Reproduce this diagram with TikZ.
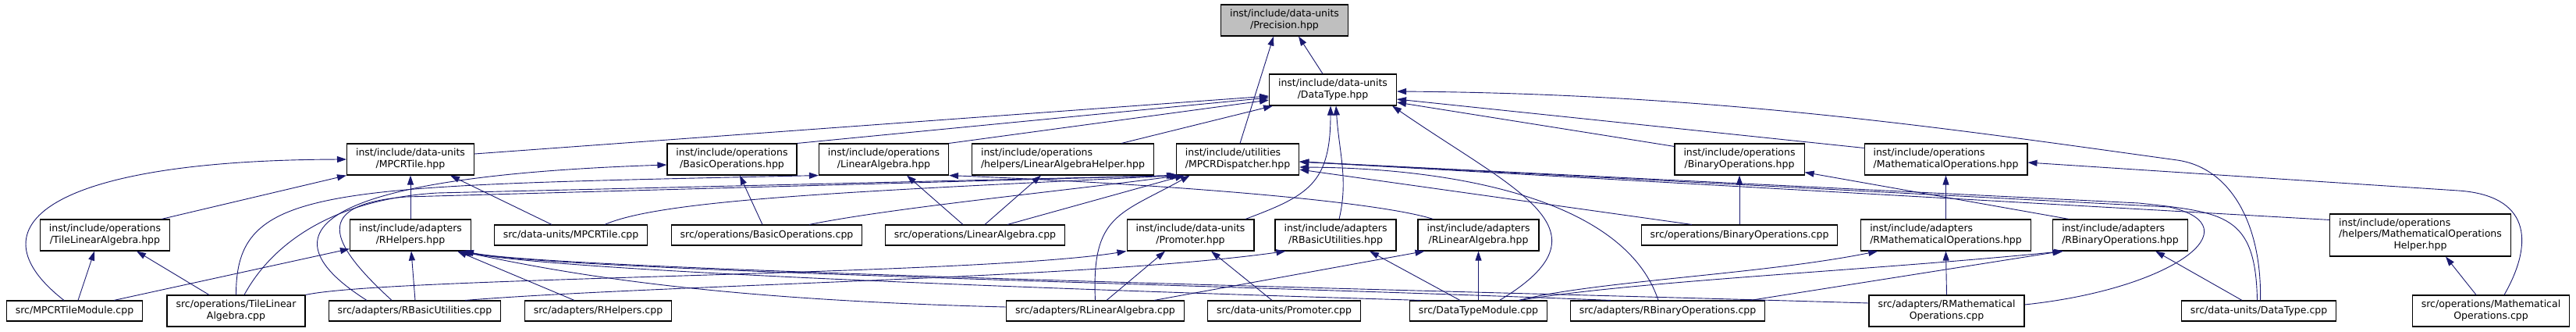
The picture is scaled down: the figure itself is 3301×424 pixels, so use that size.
\documentclass[tikz,border=0pt]{standalone}
\usepackage{fontspec}
\setmainfont{DejaVu Sans}
\usepackage{tikz}
\usepackage{xcolor}
\usetikzlibrary{arrows.meta}
\definecolor{edgeblue}{RGB}{25,25,112}
\definecolor{rootgray}{RGB}{191,191,191}
\newcommand{\twol}[2]{\begin{tabular}{@{}l@{}}#1\\\multicolumn{1}{@{}c@{}}{#2}\end{tabular}}
\newcommand{\threel}[3]{\begin{tabular}{@{}l@{}}#1\\#2\\\multicolumn{1}{@{}c@{}}{#3}\end{tabular}}
\tikzset{
  file/.style={ % one box per source file
    draw=black, line width=1.1pt, fill=white, rectangle,
    font=\fontsize{12.5}{14.4}\selectfont,
    inner xsep=11.5pt, inner ysep=1pt, minimum height=26pt
  },
  hdr/.style={file, minimum height=40pt},
  hdrthree/.style={file, minimum height=54pt},
  root/.style={hdr, fill=rootgray},
  inc/.style={ % include edge, tip at the included file
    draw=edgeblue, line width=0.9pt,
    -{Triangle[length=12pt,width=8pt]}
  }
}

\begin{document}
\begin{tikzpicture}[x=1pt, y=-1pt]
    \useasboundingbox (0,0) rectangle (3301,424);

    % headers
    \node[root] (prec) at (1646,26) {\twol{inst/include/data-units}{/Precision.hpp}};
    \node[hdr] (dtype) at (1708,115) {\twol{inst/include/data-units}{/DataType.hpp}};
    \node[hdr] (mtile) at (526,204) {\twol{inst/include/data-units}{/MPCRTile.hpp}};
    \node[hdr] (basicops) at (938,204) {\twol{inst/include/operations}{/BasicOperations.hpp}};
    \node[hdr] (linalg) at (1132.5,204) {\twol{inst/include/operations}{/LinearAlgebra.hpp}};
    \node[hdr] (lahelper) at (1362,204) {\twol{inst/include/operations}{/helpers/LinearAlgebraHelper.hpp}};
    \node[hdr] (disp) at (1586,204) {\twol{inst/include/utilities}{/MPCRDispatcher.hpp}};
    \node[hdr] (binops) at (2229,204) {\twol{inst/include/operations}{/BinaryOperations.hpp}};
    \node[hdr] (mathops) at (2493.5,204) {\twol{inst/include/operations}{/MathematicalOperations.hpp}};
    \node[hdr] (tilelahpp) at (134.5,301) {\twol{inst/include/operations}{/TileLinearAlgebra.hpp}};
    \node[hdr] (rhelpers) at (526,301) {\twol{inst/include/adapters}{/RHelpers.hpp}};
    \node[hdr] (promoter) at (1525.5,301) {\twol{inst/include/data-units}{/Promoter.hpp}};
    \node[hdr] (rbasichpp) at (1711.5,301) {\twol{inst/include/adapters}{/RBasicUtilities.hpp}};
    \node[hdr] (rlahpp) at (1894.5,301) {\twol{inst/include/adapters}{/RLinearAlgebra.hpp}};
    \node[hdr] (rmathhpp) at (2493.5,301) {\twol{inst/include/adapters}{/RMathematicalOperations.hpp}};
    \node[hdr] (rbinhpp) at (2717,301) {\twol{inst/include/adapters}{/RBinaryOperations.hpp}};
    \node[hdrthree] (mathhelper) at (3101.5,301) {\threel{inst/include/operations}{/helpers/MathematicalOperations}{Helper.hpp}};

    % sources
    \node[file] (tilecpp) at (731.5,301) {src/data-units/MPCRTile.cpp};
    \node[file] (basiccpp) at (982.5,301) {src/operations/BasicOperations.cpp};
    \node[file] (lacpp) at (1249.5,301) {src/operations/LinearAlgebra.cpp};
    \node[file] (binopscpp) at (2229,301) {src/operations/BinaryOperations.cpp};
    \node[file] (tilemod) at (95.5,398) {src/MPCRTileModule.cpp};
    \node[hdr] (tilelacpp) at (302.5,398) {\twol{src/operations/TileLinear}{Algebra.cpp}};
    \node[file] (rbasiccpp) at (531.5,398) {src/adapters/RBasicUtilities.cpp};
    \node[file] (rhelperscpp) at (766.5,398) {src/adapters/RHelpers.cpp};
    \node[file] (rlacpp) at (1403.5,398) {src/adapters/RLinearAlgebra.cpp};
    \node[file] (promcpp) at (1645.5,398) {src/data-units/Promoter.cpp};
    \node[file] (dtmod) at (1894.5,398) {src/DataTypeModule.cpp};
    \node[file] (rbincpp) at (2137,398) {src/adapters/RBinaryOperations.cpp};
    \node[hdr] (rmathcpp) at (2494.5,398) {\twol{src/adapters/RMathematical}{Operations.cpp}};
    \node[file] (dtcpp) at (2894.5,398) {src/data-units/DataType.cpp};
    \node[hdr] (mathcpp) at (3192,398) {\twol{src/operations/Mathematical}{Operations.cpp}};

    % Precision.hpp
    \draw[inc] ([xshift=-13pt]dtype.north) -- ([xshift=18pt]prec.south);
    \draw[inc] ([xshift=3pt]disp.north) -- ([xshift=-14pt]prec.south);

    % DataType.hpp
    \draw[inc] ([yshift=7pt]mtile.east) -- ([yshift=-8pt]dtype.west);
    \draw[inc] (basicops.north east) -- ([yshift=-10pt]dtype.west);
    \draw[inc] (linalg.north east) -- ([yshift=-13pt]dtype.west);
    \draw[inc] ([xshift=75pt]lahelper.north) -- ([xshift=5pt]dtype.south west);
    \draw[inc] ([xshift=70.5pt]promoter.north) .. controls +(80,-30) and +(0,100) .. ([xshift=-3pt]dtype.south);
    \draw[inc] ([xshift=4.5pt]rbasichpp.north) .. controls +(12,-50) and +(4,60) .. ([xshift=4pt]dtype.south);
    \draw[inc] ([yshift=-4pt]binops.north west) -- ([yshift=-16pt]dtype.east);
    \draw[inc] ([yshift=-6pt]mathops.north west) -- ([yshift=-12pt]dtype.east);
    \draw[inc] ([xshift=2pt]dtcpp.north) .. controls +(2,-95) and +(70,10) .. (2790,205)
      .. controls +(-290,-40) and +(409,3) .. ([yshift=-2pt]dtype.east);
    \draw[inc] ([xshift=27pt]dtmod.north) .. controls +(150,-90) and +(160,110) .. ([xshift=-6pt]dtype.south east);

    % MPCRTile.hpp
    \draw[inc] ([xshift=72.5pt]tilelahpp.north) -- (mtile.south west);
    \draw[inc] (rhelpers.north) -- (mtile.south);
    \draw[inc] ([xshift=-24.5pt]tilecpp.north) -- ([xshift=51pt]mtile.south);
    \draw[inc] ([xshift=-13.5pt]tilemod.north) .. controls +(-122,-95) and +(-382,1) .. (mtile.west);

    % TileLinearAlgebra.hpp
    \draw[inc] ([xshift=4.5pt]tilemod.north) -- ([xshift=-13.5pt]tilelahpp.south);
    \draw[inc] ([xshift=-34.5pt]tilelacpp.north) -- ([xshift=40.5pt]tilelahpp.south);

    % RHelpers.hpp
    \draw[inc] ([xshift=50.5pt]tilemod.north) -- ([yshift=3pt]rhelpers.south west);
    \draw[inc] ([xshift=0.5pt]rbasiccpp.north) -- ([xshift=1pt]rhelpers.south);
    \draw[inc] ([xshift=-30.5pt]rhelperscpp.north) -- ([xshift=60pt]rhelpers.south);
    \draw[inc] ([yshift=5pt]rlacpp.west) .. controls +(-400,-10) and +(120,25) .. ([xshift=63pt]rhelpers.south);
    \draw[inc] ([xshift=-73.5pt]dtmod.north) .. controls +(-500,-15) and +(120,25) .. ([xshift=65pt]rhelpers.south);
    \draw[inc] ([xshift=-73pt]rbincpp.north) .. controls +(-500,-20) and +(120,25) .. ([xshift=67pt]rhelpers.south);
    \draw[inc] ([yshift=10pt]rmathcpp.west) .. controls +(-500,-15) and +(120,25) .. ([xshift=69pt]rhelpers.south);

    % BasicOperations.hpp
    \draw[inc] ([xshift=-61.5pt]rbasiccpp.north) .. controls +(-150,-95) and +(-422,14) .. ([yshift=-7pt]basicops.west);
    \draw[inc] ([xshift=-5.5pt]basiccpp.north) -- ([xshift=10pt]basicops.south);

    % LinearAlgebra.hpp and its helper
    \draw[inc] (tilelacpp.north) .. controls +(0,-140) and +(-640,14) .. (linalg.south west);
    \draw[inc] ([xshift=-15.5pt]lacpp.north) -- ([xshift=29.5pt]linalg.south);
    \draw[inc] ([xshift=20pt]rlahpp.north west) .. controls +(-80,-25) and +(250,10) .. (linalg.south east);
    \draw[inc] ([xshift=12.5pt]lacpp.north) -- ([xshift=-28pt]lahelper.south);

    % MPCRDispatcher.hpp, from the left
    \draw[inc] ([xshift=-29.5pt]rbasiccpp.north) .. controls +(-82,-75) and +(-120,10) .. (520,252) -- (disp.south west);
    \draw[inc] ([xshift=10.5pt]tilelacpp.north) .. controls +(37,-68) and +(-130,8) .. (560,247) -- ([xshift=2pt]disp.south west);
    \draw[inc] ([xshift=43.5pt]tilecpp.north) .. controls +(75,-33) and +(-400,20) .. ([xshift=4pt]disp.south west);
    \draw[inc] ([xshift=54.5pt]basiccpp.north) .. controls +(110,-22) and +(-150,20) .. ([xshift=6pt]disp.south west);
    \draw[inc] ([xshift=41.5pt]lacpp.north) -- ([xshift=11pt]disp.south west);
    \draw[inc] (rlacpp.north) .. controls +(-5,-110) and +(-90,50) .. ([xshift=18pt]disp.south west);

    % MPCRDispatcher.hpp, from the right
    \draw[inc] ([xshift=-12pt]rbincpp.north) .. controls +(-45,-135) and +(182,1) .. ([yshift=-10pt]disp.east);
    \draw[inc] ([xshift=-61pt]binopscpp.north) -- ([yshift=-13pt]disp.east);
    \draw[inc] ([yshift=-8pt]mathhelper.north west) -- ([yshift=-3pt]disp.east);
    \draw[inc] ([xshift=-2pt]dtcpp.north) .. controls +(-2,-110) and +(110,12) .. (2741,260) -- ([yshift=-3pt]disp.east);
    \draw[inc] ([yshift=8pt]rmathcpp.east) .. controls +(190,-20) and +(110,25) .. (2780,265) -- ([yshift=-3pt]disp.east);

    % Promoter.hpp
    \draw[inc] (tilelacpp.north east) .. controls +(106,-23) and +(-192,31) .. (promoter.south west);
    \draw[inc] ([xshift=14.5pt]rlacpp.north) -- ([xshift=-32.5pt]promoter.south);
    \draw[inc] ([xshift=-15.5pt]promcpp.north) -- ([xshift=26.5pt]promoter.south);

    % RBasicUtilities.hpp, RLinearAlgebra.hpp
    \draw[inc] ([xshift=64.5pt]rbasiccpp.north) .. controls +(250,-20) and +(-250,35) .. ([xshift=14pt]rbasichpp.south west);
    \draw[inc] ([xshift=-23.5pt]dtmod.north) -- ([xshift=43.5pt]rbasichpp.south);
    \draw[inc] ([xshift=75.5pt]rlacpp.north) -- ([xshift=9pt]rlahpp.south west);
    \draw[inc] (dtmod.north) -- (rlahpp.south);

    % BinaryOperations.hpp, MathematicalOperations.hpp
    \draw[inc] (binopscpp.north) -- (binops.south);
    \draw[inc] ([xshift=21pt]rbinhpp.north west) -- ([yshift=4pt]binops.south east);
    \draw[inc] (rmathhpp.north) -- (mathops.south);
    \draw[inc] ([xshift=17pt]mathcpp.north) .. controls +(40,-70) and +(90,6) .. (3150,244) -- ([yshift=-4pt]mathops.east);

    % adapters for the operations
    \draw[inc] (rmathcpp.north) -- (rmathhpp.south);
    \draw[inc] ([xshift=51.5pt]dtmod.north) .. controls +(100,-25) and +(-150,30) .. ([xshift=22pt]rmathhpp.south west);
    \draw[inc] ([xshift=53pt]dtmod.north) .. controls +(150,-25) and +(-250,25) .. ([xshift=14pt]rbinhpp.south west);
    \draw[inc] ([xshift=106pt]rbincpp.north) -- ([xshift=12pt]rbinhpp.south west);
    \draw[inc] ([xshift=-21.5pt]dtcpp.north) -- ([xshift=45pt]rbinhpp.south);

    % MathematicalOperationsHelper.hpp
    \draw[inc] ([xshift=-19pt]mathcpp.north) -- ([xshift=32.5pt]mathhelper.south);
\end{tikzpicture}
\end{document}
